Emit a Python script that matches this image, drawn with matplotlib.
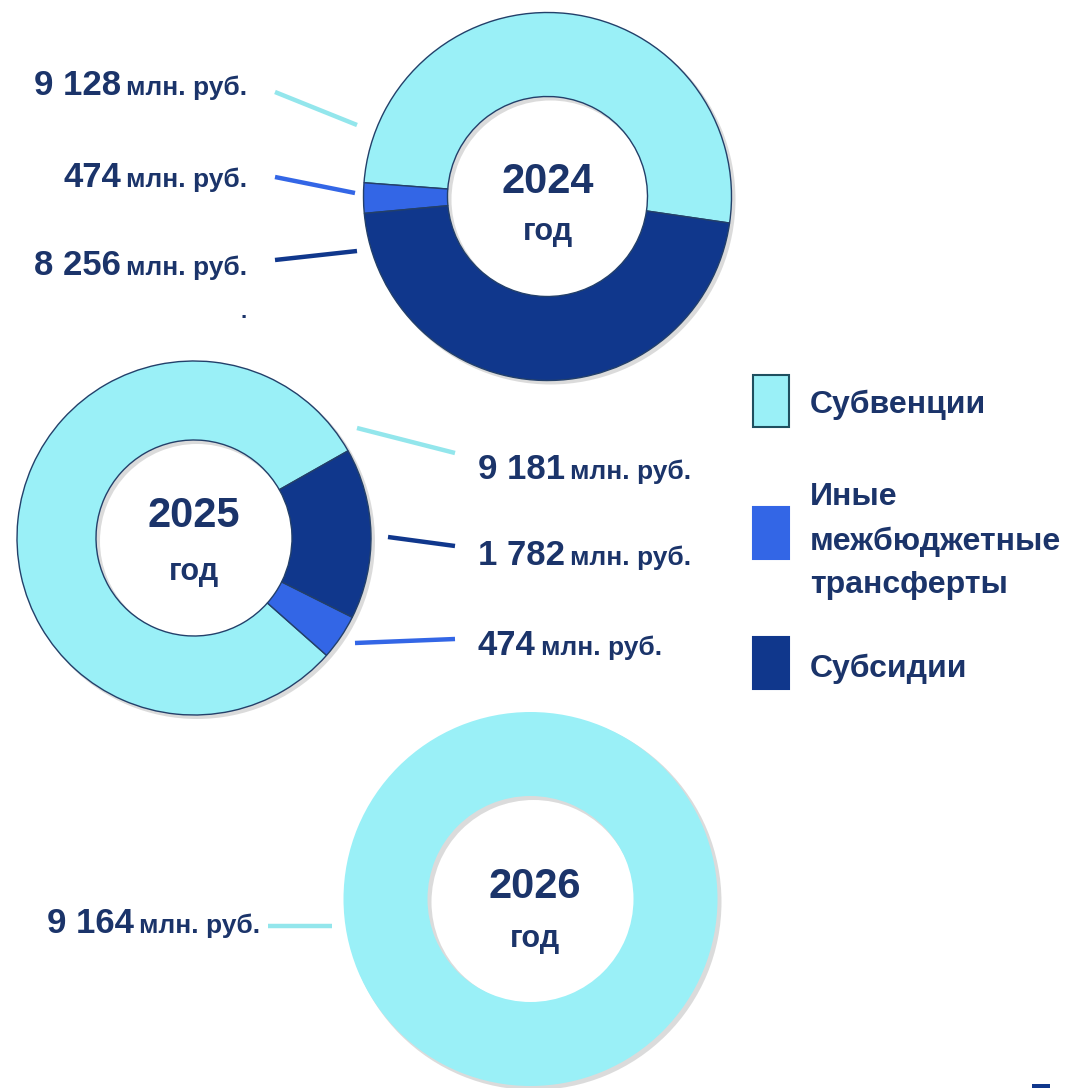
import matplotlib
matplotlib.use("Agg")
import matplotlib.pyplot as plt
from matplotlib.patches import Wedge, Rectangle
from matplotlib import font_manager

# ---------------- data ----------------
years = ["2024", "2025", "2026"]
year_word = "год"
categories = ["Субвенции", "Иные межбюджетные трансферты", "Субсидии"]
subventions = [9128, 9181, 9164]
other_transfers = [474, 474, 0]
subsidies = [8256, 1782, 0]
unit = "млн. руб."

# ---------------- style ----------------
names = {f.name for f in font_manager.fontManager.ttflist}
BASE = "Liberation Sans" if "Liberation Sans" in names else "DejaVu Sans"
NARROW = "Liberation Sans Narrow" if "Liberation Sans Narrow" in names else None

colors = ["#9af0f7", "#3366e6", "#10378c"]
line_colors = ["#93e6ec", "#3366e6", "#10378c"]
text_color = "#1b346a"
edge_color = "#23406a"

W, H = 1066, 1088
fig = plt.figure(figsize=(W / 100, H / 100), dpi=100)
fig.patch.set_facecolor("white")
ax = fig.add_axes([0, 0, 1, 1])


def Y(y):
    return H - y


# donut layout (pixel coords, y measured from top)
layout = [
    dict(center=(547.5, 196.5), r=184, ri=100, start=-8.3, edge=True,
         year_xy=(548, 193), word_xy=(548, 240)),
    dict(center=(194, 538), r=177, ri=98, start=29.5, edge=True,
         year_xy=(194, 527), word_xy=(194, 580)),
    dict(center=(530.5, 899), r=187, ri=103, start=90, edge=False,
         year_xy=(535, 898), word_xy=(535, 947)),
]

for i, lay in enumerate(layout):
    vals = [subventions[i], other_transfers[i], subsidies[i]]
    pairs = [(v, c) for v, c in zip(vals, colors) if v > 0]
    cx, cy = lay["center"]
    r, ri = lay["r"], lay["ri"]
    # soft shadow
    ax.add_patch(Wedge((cx + 3, Y(cy) - 3), r + 1, 0, 360, width=r - ri + 2,
                       facecolor="#808080", alpha=0.28, edgecolor="none", zorder=0))
    wp = dict(width=r - ri)
    if lay["edge"]:
        wp.update(edgecolor=edge_color, linewidth=1.0)
    else:
        wp.update(edgecolor="none", linewidth=0)
    ax.pie([p[0] for p in pairs], colors=[p[1] for p in pairs],
           startangle=lay["start"], counterclock=True,
           center=(cx, Y(cy)), radius=r, wedgeprops=wp)
    ax.text(lay["year_xy"][0], Y(lay["year_xy"][1]), years[i], ha="center",
            va="baseline", fontsize=30, fontweight="bold", color=text_color,
            family=BASE, zorder=5)
    ax.text(lay["word_xy"][0], Y(lay["word_xy"][1]), year_word, ha="center",
            va="baseline", fontsize=22, fontweight="bold", color=text_color,
            family=BASE, zorder=5)

ax.set_xlim(0, W)
ax.set_ylim(0, H)
ax.set_aspect("equal")
ax.axis("off")

renderer = fig.canvas.get_renderer()


def fmt(v):
    return f"{v:,}".replace(",", " ")


NUM_FS, UNIT_FS, GAP = 25, 19, 5


def label(value, x, baseline, align):
    num = fmt(value)
    if align == "right":
        t = ax.text(x, Y(baseline), unit, ha="right", va="baseline", fontsize=UNIT_FS,
                    fontweight="bold", color=text_color, family=BASE)
        w = t.get_window_extent(renderer=renderer).width
        ax.text(x - w - GAP, Y(baseline), num, ha="right", va="baseline",
                fontsize=NUM_FS, fontweight="bold", color=text_color, family=BASE)
    else:
        t = ax.text(x, Y(baseline), num, ha="left", va="baseline", fontsize=NUM_FS,
                    fontweight="bold", color=text_color, family=BASE)
        w = t.get_window_extent(renderer=renderer).width
        ax.text(x + w + GAP, Y(baseline), unit, ha="left", va="baseline",
                fontsize=UNIT_FS, fontweight="bold", color=text_color, family=BASE)


def leader(p0, p1, color):
    ax.plot([p0[0], p1[0]], [Y(p0[1]), Y(p1[1])], color=color, lw=3.2,
            solid_capstyle="butt", zorder=3)


# 2024 labels (right aligned, left of donut)
label(subventions[0], 247, 95, "right")
label(other_transfers[0], 247, 187, "right")
label(subsidies[0], 247, 275, "right")
leader((275, 92), (357, 125), line_colors[0])
leader((275, 177), (355, 193), line_colors[1])
leader((275, 260), (357, 251), line_colors[2])
ax.text(244, Y(318), ".", ha="center", va="baseline", fontsize=16,
        fontweight="bold", color=text_color, family=BASE)

# 2025 labels (left aligned, right of donut)
label(subventions[1], 478, 479, "left")
label(subsidies[1], 478, 565, "left")
label(other_transfers[1], 478, 655, "left")
leader((357, 428), (455, 453), line_colors[0])
leader((388, 537), (455, 546), line_colors[2])
leader((355, 643), (455, 639), line_colors[1])

# 2026 label
label(subventions[2], 47, 933, "left")
leader((268, 926), (332, 926), line_colors[0])

# legend
LEG_FS = 27 if NARROW else 23
LEG_FAM = NARROW if NARROW else BASE
sq_tops = [375, 507, 637]
leg_lines = [[categories[0]], categories[1].split(" "), [categories[2]]]
leg_baselines = [[413], [505, 550, 593], [677]]
for k in range(3):
    ec = "#1f4f5f" if k == 0 else colors[k]
    ax.add_patch(Rectangle((753, Y(sq_tops[k] + 52)), 36, 52, facecolor=colors[k],
                           edgecolor=ec, linewidth=1.5, zorder=3))
    for line, b in zip(leg_lines[k], leg_baselines[k]):
        ax.text(810, Y(b), line, ha="left", va="baseline", fontsize=LEG_FS,
                fontweight="bold", color=text_color, family=LEG_FAM)

# small artifact at the bottom right corner
ax.add_patch(Rectangle((1032, 0), 18, 4, facecolor="#10378c", edgecolor="none"))

fig.savefig("out.png", dpi=100, facecolor="white")
